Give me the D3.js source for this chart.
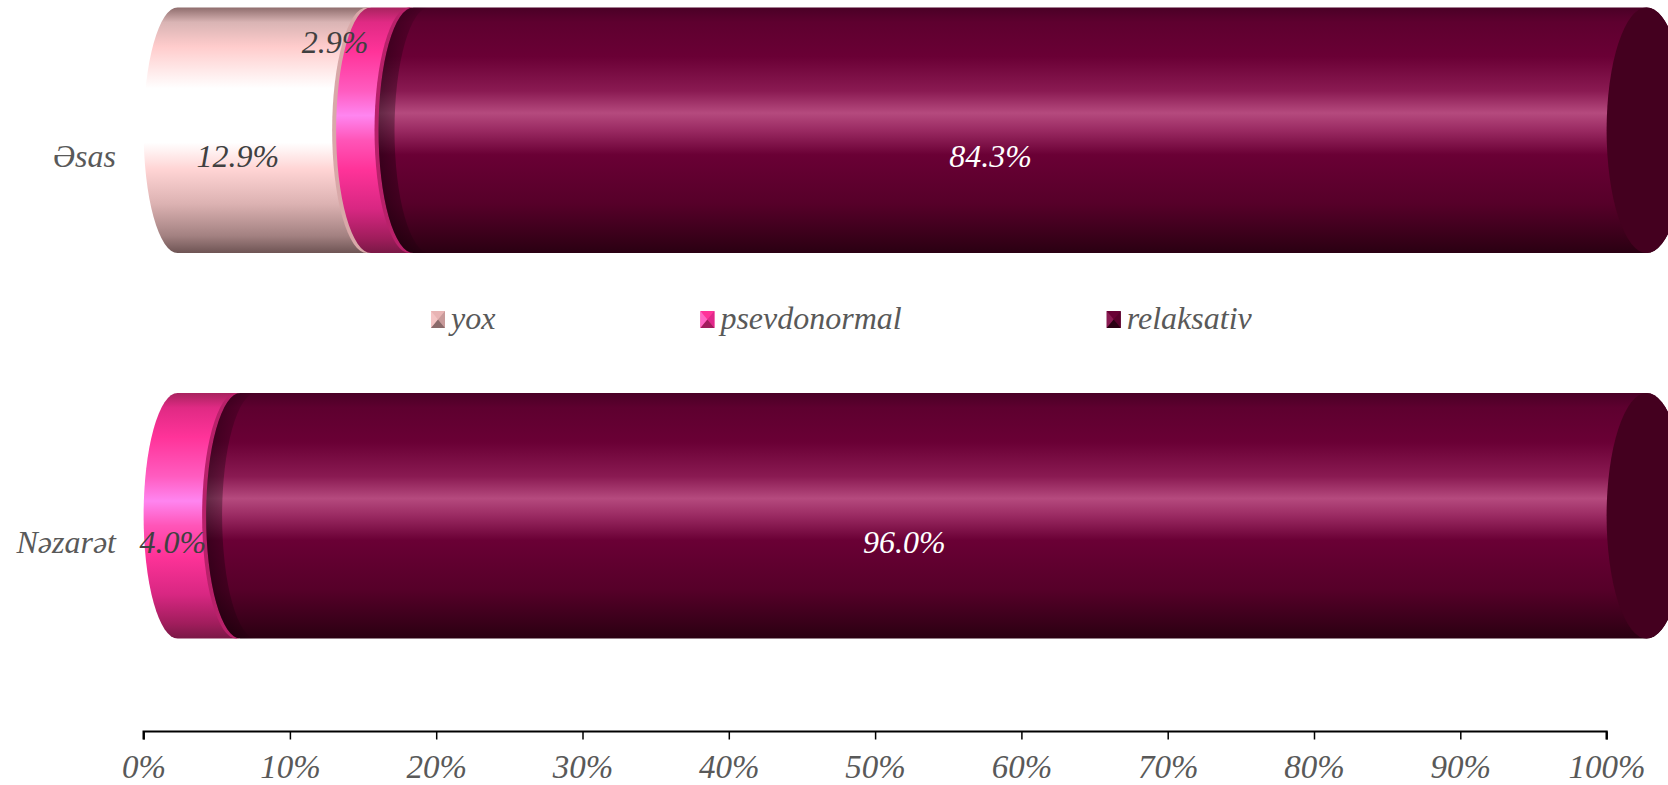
<!DOCTYPE html>
<html>
<head>
<meta charset="utf-8">
<script src="https://cdn.jsdelivr.net/npm/d3@7"></script>
<style>
  html, body { margin: 0; padding: 0; background: #ffffff; }
  svg { display: block; }
  text { font-family: "Liberation Serif", "Times New Roman", serif; font-style: italic; }
</style>
</head>
<body>
<svg id="chart" width="1668" height="785"></svg>
<script>
// ---- data ----
const categories = ["Əsas", "Nəzarət"];
const seriesNames = ["yox", "psevdonormal", "relaksativ"];
const yoxValues = [12.9, 0];
const psevdonormalValues = [2.9, 4.0];
const relaksativValues = [84.3, 96.0];
const tickValues = [0, 0.1, 0.2, 0.3, 0.4, 0.5, 0.6, 0.7, 0.8, 0.9, 1.0];

const seriesValues = [yoxValues, psevdonormalValues, relaksativValues];

// ---- styles ----
const fontSize = 32;
const textGrey = "#595959";
const gradStops = [
  [ // yox
    [0, "#8f6d6d"], [0.06, "#d9b4b4"], [0.16, "#ffcccc"], [0.33, "#ffffff"], [0.55, "#ffffff"],
    [0.66, "#ffd4d4"], [0.8, "#dcb2b2"], [0.93, "#a38181"], [1, "#6e5454"]
  ],
  [ // psevdonormal
    [0, "#a8235f"], [0.06, "#e02a84"], [0.18, "#ff3399"], [0.34, "#ff5cc0"], [0.44, "#ff85f0"],
    [0.54, "#ff55b8"], [0.66, "#ff3399"], [0.82, "#d82782"], [0.94, "#a01d5c"], [1, "#7a1846"]
  ],
  [ // relaksativ
    [0, "#4a0026"], [0.06, "#5e002f"], [0.2, "#6a0035"], [0.34, "#8a1a52"], [0.43, "#b54a7e"],
    [0.5, "#9a2a62"], [0.6, "#6a0035"], [0.8, "#560029"], [0.93, "#3a001a"], [1, "#2a0012"]
  ]
];
const capColors = ["#d8a8a8", "#b8216a", "#44001f"];
const labelColors = ["#404040", "#404040", "#ffffff"];

const svg = d3.select("#chart");
const defs = svg.append("defs");

gradStops.forEach((stops, i) => {
  const g = defs.append("linearGradient").attr("id", "grad" + i)
    .attr("x1", 0).attr("y1", 0).attr("x2", 0).attr("y2", 1);
  stops.forEach(s => g.append("stop").attr("offset", s[0]).attr("stop-color", s[1]));
});
const shade = defs.append("linearGradient").attr("id", "shade")
  .attr("x1", 0).attr("y1", 0).attr("x2", 1).attr("y2", 0);
shade.append("stop").attr("offset", 0).attr("stop-color", "#000").attr("stop-opacity", 0.45);
shade.append("stop").attr("offset", 1).attr("stop-color", "#000").attr("stop-opacity", 0);

// ---- scales ----
const x = d3.scaleLinear().domain([0, 1]).range([143.6, 1606.6]);
const y = d3.scaleBand().domain(categories).range([7.5, 638.5]).paddingInner(0.3632).paddingOuter(0);
const rxAt = px => 34 + 6 * (px - x.range()[0]) / (x.range()[1] - x.range()[0]);
const gap = 4;

// ---- bars (cylinders) ----
const gBars = svg.append("g");
categories.forEach((cat, ci) => {
  const total = d3.sum(seriesValues, s => s[ci]);
  const top = y(cat), bot = y(cat) + y.bandwidth(), mid = (top + bot) / 2, ry = (bot - top) / 2;
  let cum = 0;
  const segs = [];
  seriesValues.forEach((s, si) => {
    const v = s[ci] / total;
    if (v > 0) segs.push({ si, start: cum, end: cum + v, raw: s[ci] });
    cum += v;
  });
  segs.forEach((d, k) => {
    const a = x(d.start) + (k > 0 ? gap : 0);
    const b = x(d.end);
    const ra = rxAt(a), rb = rxAt(b);
    const path = `M${a + ra},${top} A${ra},${ry} 0 0 0 ${a},${mid} A${ra},${ry} 0 0 0 ${a + ra},${bot}` +
      ` L${b + rb},${bot} A${rb},${ry} 0 0 0 ${b + 2 * rb},${mid} A${rb},${ry} 0 0 0 ${b + rb},${top} Z`;
    gBars.append("path").attr("d", path).attr("fill", `url(#grad${d.si})`);
    gBars.append("ellipse").attr("cx", b + rb).attr("cy", mid).attr("rx", rb).attr("ry", ry)
      .attr("fill", capColors[d.si]);
    if (d.si === 2) {
      const w = 16;
      const sp = `M${a + ra},${top} A${ra},${ry} 0 0 0 ${a},${mid} A${ra},${ry} 0 0 0 ${a + ra},${bot}` +
        ` L${a + ra + w},${bot} A${ra},${ry} 0 0 1 ${a + w},${mid} A${ra},${ry} 0 0 1 ${a + ra + w},${top} Z`;
      gBars.append("path").attr("d", sp).attr("fill", "url(#shade)");
    }
  });
  // data labels
  segs.forEach(d => {
    const wpx = x(d.end) - x(d.start);
    const small = wpx < 50;
    const lx = small ? x(d.start) + 3 : x((d.start + d.end) / 2);
    const ly = small ? top + 45 : mid + 37;
    svg.append("text").attr("x", lx).attr("y", ly).attr("text-anchor", "middle")
      .attr("font-size", fontSize).attr("fill", labelColors[d.si])
      .text(d.raw.toFixed(1) + "%");
  });
  // category label
  svg.append("text").attr("x", 116).attr("y", mid + 37).attr("text-anchor", "end")
    .attr("font-size", fontSize).attr("fill", textGrey).text(cat);
});

// ---- axis ----
const axisY = 731.5;
const axis = svg.append("g").attr("transform", `translate(0,${axisY})`)
  .call(d3.axisBottom(x).tickValues(tickValues).tickSize(8).tickFormat(d3.format(".0%")));
axis.select(".domain").attr("stroke", "#000").attr("stroke-width", 2.2)
  .attr("d", `M${x(0)},8V0H${x(1)}V8`);
axis.selectAll(".tick line").attr("stroke", "#000").attr("stroke-width", 1.5);
axis.selectAll(".tick text").attr("y", 46.5).attr("dy", 0)
  .attr("font-size", 33).attr("fill", textGrey)
  .style("font-family", '"Liberation Serif", "Times New Roman", serif').style("font-style", "italic");

// ---- legend ----
const legY = 329;
let lx = 431;
const markerColors = [["#f4c4c4", "#c89a9a", "#e8b4b4", "#8a6a6a"],
                      ["#ff66c4", "#e0288a", "#ff3399", "#a01d5c"],
                      ["#8a1a52", "#5a002c", "#6a0035", "#2a0012"]];
seriesNames.forEach((name, i) => {
  const g = svg.append("g").attr("transform", `translate(${lx},${legY - 18})`);
  const mw = 14, mh = 17, c = markerColors[i];
  g.append("rect").attr("width", mw).attr("height", mh).attr("fill", c[2]);
  g.append("path").attr("d", `M0,0 L${mw / 2},${mh / 2} L0,${mh} Z`).attr("fill", c[0]);
  g.append("path").attr("d", `M${mw},0 L${mw / 2},${mh / 2} L${mw},${mh} Z`).attr("fill", c[1]);
  g.append("path").attr("d", `M0,${mh} L${mw / 2},${mh / 2} L${mw},${mh} Z`).attr("fill", c[3]);
  const t = svg.append("text").attr("x", lx + 20).attr("y", legY).attr("font-size", fontSize)
    .attr("fill", textGrey).text(name);
  lx = lx + 20 + t.node().getComputedTextLength() + 205;
});
</script>
</body>
</html>
